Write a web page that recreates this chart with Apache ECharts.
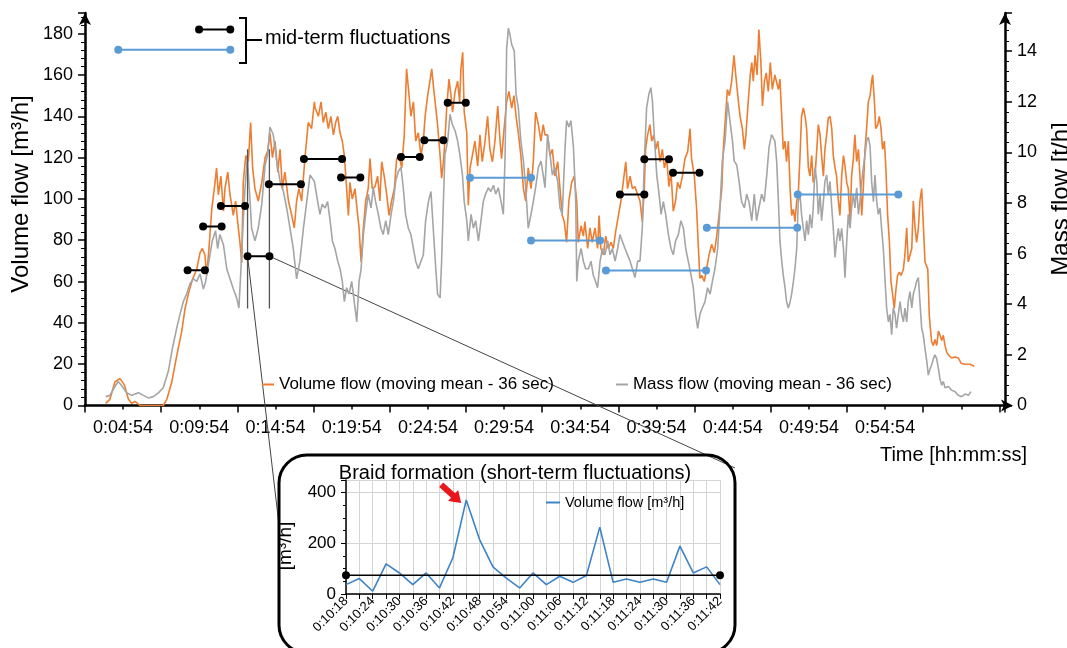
<!DOCTYPE html>
<html>
<head>
<meta charset="utf-8">
<script src="https://cdn.jsdelivr.net/npm/echarts@6/dist/echarts.min.js"></script>
<style>
  html, body { margin: 0; padding: 0; background: #fff; }
  #chart { width: 1067px; height: 648px; }
</style>
</head>
<body>
<div id="chart"></div>
<script>
// ---- Main recording: times are seconds after 0:02:24 (left end of the time axis) ----
const volT = [81,98,118,138,155,171,184,197,217,308,322,341,361,381,394,409,423,440,453,462,472,479,488,499,512,518,525,535,545,551,562,571,584,593,601,610,617,623,633,643,652,660,669,682,696,709,719,728,738,748,759,768,777,787,801,814,824,833,842,853,866,879,892,903,
  906,919,929,938,948,958,968,978,987,995,1004,1013,1021,1030,1037,1043,1052,1063,1071,1079,1087,1096,1105,1115,1122,1131,1142,1152,1161,1168,1178,1188,1197,1207,1218,1227,1236,1247,1257,1266,1276,1283,1293,1302,1312,1323,1332,1339,1349,1358,1365,1373,1381,1388,1398,1404,1411,1417,1424,1433,1441,1447,1457,1467,1475,1480,1487,1493,1503,1509,1516,1525,1535,1546,1555,1564,1575,1585,1594,1604,1614,1625,1634,1640,1650,1660,1669,1680,1689,1697,1706,1716,1726,1735,1745,1756,1765,1774,1785,1795,1804,1811,
  1821,1831,1840,1850,1861,1870,1879,1887,1896,1905,1916,1926,1936,1942,1953,1962,1968,1979,1988,1997,2008,2018,2024,2031,2041,2050,2060,2071,2080,2089,2100,2110,2119,2129,2136,2146,2155,2165,2176,2185,2194,2202,2207,2215,2224,2231,2239,2247,2255,2264,2273,2281,2290,2299,2307,2316,2325,2333,2342,2352,2362,2373,2382,2388,2399,2408,2415,2421,2428,2438,2447,2457,2467,2478,2487,2496,2507,2513,2520,2529,2537,2546,2555,2562,2570,2579,2588,2596,2602,2611,2619,2625,2631,2638,2646,2653,2661,2667,2675,2682,2690,2698,2706,2716,
  2723,2730,2736,2743,2749,2756,2762,2769,2776,2782,2789,2795,2802,2808,2815,2821,2828,2835,2841,2848,2854,2861,2867,2874,2881,2887,2894,2900,2907,2913,2920,2926,2933,2940,2946,2953,2959,2966,2972,2979,2986,2992,2999,3005,3012,3018,3025,3031,3038,3045,3051,3058,3064,3071,3077,3084,3091,3097,3101,3108,3113,3121,3127,3134,3140,3147,3153,3160,3167,3173,3180,3186,3193,3199,3206,3213,3222,3228,3235,3241,3248,3255,3261,3268,3274,3281,3287,3294,3300,3307,3318,3324,3333,3340,3346,3353,3360,3366,3373,3379,3386,3392,3399,3405,3412,3425,3438,3449,3465,3484,3501];
// Volume flow, moving mean 36 s [m³/h]
const volV = [1,3,11.5,13,10,3,1,2,0,0,3,11,24,36,47,55,61,66,74,76,73,63,76,95,108,115,102,111,94,105,113,102,92,99,89,79,69,108,121,118,137,115,105,99,108,120,123,132,120,128,113,124,105,113,99,92,86,99,105,99,120,137,134,147,
  144,140,147,137,142,134,140,131,137,140,132,128,121,105,92,108,100,105,95,86,69.5,86,99,105,119.5,105,106,111,99,118,111,102,92,99,105,119.5,121,115,131,163,150,140,147,128,132,121,128,140,150,157,163,153,144,136,121,110,118,128,144,158,150,142,152,157,147,163,171,142,132,97,115,121,128,116,131,118,128,140,124,118,128,145,128,119.5,134,147,152,144,150,140,132,121,105,99,115,105,118,142,136,128,136,131,
  131,121,124,111,118,105,92,89,79,99,108,111,99,79,87,82,89,76,86,79,86,76,92,76,73,82,76,79,76,84,92,99,108,118,105,111,105,106,102,99,89,105,124,131,136,128,131,124,128,118,124,115,119.5,106,113,94,99,108,105,111,119.5,123,134,119.5,111,95,76,61.5,63,60,66,73,78,74,82,92,105,124,137,153,150,157,169.5,160,150,140,134,124,131,147,160,166,157,169.5,160,182,166,145,157,161,152,166,153,160,
  160,153,158,140,124,128,118,128,105,92,95,89,99,102,121,140,144,140,134,115,111,121,108,111,124,136,131,121,111,124,131,139,140,134,121,115,111,99,92,111,121,116,108,105,89,111,119.5,131,118,124,111,92,105,124,134,147,150,157,160,147,134,136,140,134,124,128,115,92,79,60,53.5,47,56.5,63,64.5,63,66,73,86,69.5,69.5,76,99,86,79,86,99,105,89,69.5,66,43.5,31,29,32,29,36,34,31.5,34,29,26,24.5,25,23,23.5,23,20.5,20,20,19];

const massT = [81,98,118,131,147,164,184,210,230,249,269,289,308,328,344,361,374,387,400,413,426,440,453,466,475,488,501,514,522,531,545,558,571,584,597,606,614,623,630,639,650,656,669,682,696,709,719,728,741,755,768,781,794,807,820,833,846,860,873,886,903,
  916,925,934,945,955,965,974,984,995,1004,1013,1021,1030,1039,1050,1060,1070,1079,1087,1096,1105,1115,1126,1135,1144,1155,1165,1174,1184,1194,1205,1214,1223,1234,1244,1253,1262,1273,1283,1293,1302,1312,1323,1332,1341,1352,1362,1371,1381,1388,1398,1404,1411,1417,1428,1437,1446,1457,1467,1476,1486,1493,1503,1509,1520,1529,1538,1549,1559,1568,1577,1588,1598,1608,1617,1627,1638,1647,1654,1660,1667,1673,1680,1690,1697,1706,1716,1726,1735,1745,1756,1765,1774,1785,1795,1804,1811,
  1821,1831,1840,1850,1861,1870,1879,1890,1896,1905,1913,1923,1932,1936,1942,1953,1962,1971,1982,1992,2001,2010,2018,2028,2037,2047,2058,2067,2076,2087,2097,2106,2115,2126,2136,2146,2155,2165,2176,2185,2194,2202,2211,2220,2228,2234,2241,2251,2260,2268,2277,2286,2297,2307,2316,2325,2336,2346,2356,2365,2375,2386,2395,2404,2412,2421,2430,2441,2451,2461,2470,2480,2491,2500,2509,2520,2530,2539,2549,2556,2566,2575,2585,2596,2605,2614,2625,2635,2644,2653,2664,2674,2684,2693,2703,2716,
  2723,2730,2736,2743,2749,2756,2762,2769,2776,2782,2789,2795,2802,2808,2815,2821,2828,2835,2841,2848,2854,2861,2867,2874,2881,2887,2894,2900,2907,2913,2920,2926,2933,2940,2946,2953,2959,2966,2972,2979,2986,2992,2999,3005,3012,3018,3025,3031,3038,3045,3051,3058,3064,3071,3077,3084,3091,3097,3104,3110,3117,3123,3130,3136,3143,3150,3156,3163,3169,3176,3182,3189,3195,3202,3209,3215,3222,3228,3235,3241,3248,3255,3261,3268,3274,3281,3287,3294,3300,3307,
  3314,3320,3327,3333,3340,3346,3353,3360,3366,3373,3379,3386,3399,3412,3425,3438,3451,3465,3478,3488];
// Mass flow, moving mean 36 s [t/h]
const massV = [0.35,0.4,0.75,0.95,0.75,0.5,0.4,0.5,0.4,0.3,0.35,0.5,0.7,1.35,2.25,3.05,3.6,4.1,4.4,4.8,5.0,4.9,5.2,4.6,4.9,5.7,6.5,6.9,6.2,6.75,6.35,5.4,5.0,4.6,4.25,3.85,5.4,7.3,8.6,9.8,8.05,7.0,6.5,7.0,7.95,9.5,9.9,11.0,10.7,9.65,8.85,8.45,7.8,7.0,6.2,5.0,5.7,7.0,8.05,9.1,8.85,
  8.05,7.55,7.95,7.8,8.05,7.3,6.5,6.2,5.7,5.4,4.9,4.1,4.65,4.4,4.9,4.1,3.3,4.9,5.4,6.75,7.55,8.35,7.8,8.6,8.05,7.55,7.0,6.75,7.3,6.75,7.55,8.05,8.85,9.25,9.4,8.6,7.55,7.0,6.75,6.2,5.7,5.4,5.7,5.95,7.3,8.05,8.45,7.0,5.4,4.4,4.25,5.7,8.05,9.9,10.45,11.5,11.1,10.85,10.45,9.9,9.1,8.05,7.3,6.5,7.55,7.0,7.3,6.5,7.3,8.05,8.35,8.6,8.45,8.7,8.35,8.6,8.05,7.55,9.9,14.1,14.9,14.65,14.25,14.0,12.3,11.75,10.45,9.65,8.6,7.0,7.55,8.05,8.6,9.4,9.65,9.1,8.6,
  10.7,9.9,9.1,9.4,8.85,7.8,7.55,10.2,11.25,11.0,11.25,10.2,8.05,4.9,5.7,6.2,5.7,5.4,5.4,5.7,5.15,4.9,4.65,5.7,6.2,5.95,6.5,5.95,6.2,5.7,6.2,6.75,6.5,6.2,5.95,5.7,5.4,5.05,5.7,5.7,7.0,9.65,11.75,12.3,12.55,12.0,10.7,9.1,8.35,7.55,8.05,7.55,6.75,6.2,5.95,6.5,6.75,7.3,7.0,6.2,5.7,5.15,4.65,3.6,3.05,3.6,3.85,4.1,4.65,4.4,4.9,5.4,6.2,7.8,9.65,10.45,12.0,11.25,10.45,9.65,9.5,8.85,8.05,7.8,8.35,8.05,7.3,8.35,7.3,7.8,8.35,8.05,9.1,10.2,10.7,10.45,
  9.65,8.05,6.5,5.7,5.15,4.65,4.1,3.85,4.1,4.4,4.9,5.4,6.2,8.05,8.35,7.55,7.0,6.5,7.3,6.75,7.55,7.0,7.8,9.4,8.85,7.55,8.35,7.3,8.05,8.85,9.1,8.35,8.85,7.8,7.0,5.85,6.5,7.0,6.5,7.0,6.2,5.05,6.5,7.55,7.0,7.8,8.35,7.8,8.6,7.55,8.05,8.85,9.4,9.9,10.45,10.6,10.2,8.85,8.05,9.1,8.05,7.55,7.8,7.0,6.2,4.9,3.85,3.3,3.6,2.8,3.85,3.6,3.05,3.6,4.1,3.6,3.3,3.85,3.3,4.1,4.5,3.85,4.4,4.65,4.9,5.05,4.1,3.05,2.8,2.25,
  1.75,1.2,1.45,1.6,1.85,2.0,1.85,1.45,1.05,0.8,0.95,0.7,0.75,0.6,0.55,0.4,0.35,0.45,0.4,0.55];

// Time-axis labels (one every 5 minutes)
const timeLabels = ['0:04:54','0:09:54','0:14:54','0:19:54','0:24:54','0:29:54','0:34:54','0:39:54','0:44:54','0:49:54','0:54:54'];

// Mid-term fluctuation levels (start, end in seconds after 0:02:24; level in m³/h)
const blackStart = [449, 404, 465, 535, 640, 724, 862, 1008, 1244, 1336, 1428, 2106, 2202, 2315];
const blackEnd   = [572, 472, 538, 630, 726, 850, 1012, 1084, 1318, 1411, 1499, 2202, 2299, 2419];
const blackLevel = [182, 65.5, 86.6, 96.6, 72.3, 107.1, 119.3, 110.4, 120.3, 128.4, 146.6, 102.1, 119.2, 112.7];
const blueStart  = [131, 1516, 1756, 2051, 2448, 2806];
const blueEnd    = [572, 1756, 2028, 2445, 2804, 3202];
const blueLevel  = [172.2, 110.2, 79.9, 65.4, 86.0, 102.1];
const BRAID = 4;               // the black level that is shown in detail below
const braidSpanLow = 47, braidSpanHigh = 124;

// ---- Detail: braid formation, 3-second values ----
const detailTimes = ['0:10:18','0:10:21','0:10:24','0:10:27','0:10:30','0:10:33','0:10:36','0:10:39','0:10:42','0:10:45','0:10:48','0:10:51','0:10:54','0:10:57','0:11:00','0:11:03','0:11:06','0:11:09','0:11:12','0:11:15','0:11:18','0:11:21','0:11:24','0:11:27','0:11:30','0:11:33','0:11:36','0:11:39','0:11:42'];
const detailVolume = [37,61,11,119,83,37,83,24,143,371,215,107,63,24,83,37,70,46,73,264,46,59,46,59,46,189,83,107,37];
const detailMean = 74;

const FONT = '"Liberation Sans", Arial, Helvetica, sans-serif';
const ORANGE = '#ED7D31', GREY = '#A5A5A5', BLUE = '#5B9BD5', DETAIL_BLUE = '#3F83C6';

const chart = echarts.init(document.getElementById('chart'), null, { renderer: 'canvas' });

const pairs = (ts, vs) => ts.map((t, i) => [t, vs[i]]);

function dumbbell(a, b, v, color, size) {
  return {
    type: 'line', xAxisIndex: 0, yAxisIndex: 0, data: [[a, v], [b, v]],
    symbol: 'circle', symbolSize: size, showSymbol: true,
    itemStyle: { color: color }, lineStyle: { color: color, width: 2 },
    z: 6, silent: true
  };
}

const series = [
  { name: 'Volume flow (moving mean - 36 sec)', type: 'line', xAxisIndex: 0, yAxisIndex: 0,
    data: pairs(volT, volV), symbol: 'none', itemStyle: { color: ORANGE },
    lineStyle: { color: ORANGE, width: 1.6 }, z: 2 },
  { name: 'Mass flow (moving mean - 36 sec)', type: 'line', xAxisIndex: 0, yAxisIndex: 1,
    data: pairs(massT, massV), symbol: 'none', itemStyle: { color: GREY },
    lineStyle: { color: GREY, width: 1.6 }, z: 3 }
];
// span of the detailed window
[blackStart[BRAID], blackEnd[BRAID]].forEach(t => series.push({
  type: 'line', xAxisIndex: 0, yAxisIndex: 0, data: [[t, braidSpanLow], [t, braidSpanHigh]],
  symbol: 'none', lineStyle: { color: '#555', width: 1.3 }, z: 4, silent: true
}));
blackStart.forEach((a, i) => series.push(dumbbell(a, blackEnd[i], blackLevel[i], '#000', 8)));
blueStart.forEach((a, i) => series.push(dumbbell(a, blueEnd[i], blueLevel[i], BLUE, 8)));
series.push({
  name: 'Volume flow [m³/h]', type: 'line', xAxisIndex: 2, yAxisIndex: 2,
  data: detailVolume, symbol: 'none', itemStyle: { color: DETAIL_BLUE },
  lineStyle: { color: DETAIL_BLUE, width: 1.6 }, z: 3
});
series.push({
  type: 'line', xAxisIndex: 2, yAxisIndex: 2,
  data: [[0, detailMean], [detailTimes.length - 1, detailMean]],
  symbol: 'circle', symbolSize: 8, itemStyle: { color: '#000' },
  lineStyle: { color: '#000', width: 1.6 }, z: 4, silent: true
});

const option = {
  animation: false,
  backgroundColor: '#fff',
  textStyle: { fontFamily: FONT },
  grid: [
    { left: 85, right: 62, top: 13, bottom: 242.5 },
    { left: 346, right: 347, top: 480, bottom: 54 }
  ],
  legend: [
    { data: ['Volume flow (moving mean - 36 sec)', 'Mass flow (moving mean - 36 sec)'],
      left: 262, top: 376, padding: 0, itemGap: 62, itemWidth: 12, itemHeight: 2, icon: 'rect',
      textStyle: { fontSize: 17, color: '#000', fontFamily: FONT } },
    { data: ['Volume flow [m³/h]'], left: 546, top: 495, padding: 0,
      itemWidth: 14, itemHeight: 2, icon: 'rect',
      textStyle: { fontSize: 14.5, color: '#000', fontFamily: FONT } }
  ],
  xAxis: [
    { gridIndex: 0, type: 'value', position: 'bottom', min: 0, max: 3622, interval: 150,
      axisLine: { show: false, onZero: false },
      axisTick: { show: true, length: 4, lineStyle: { color: '#000', width: 1.5 } },
      axisLabel: { fontSize: 18, color: '#000', margin: 14, fontFamily: FONT,
        showMinLabel: false, showMaxLabel: false,
        formatter: v => ((v - 150) % 300 === 0 && v >= 150) ? (timeLabels[(v - 150) / 300] || '') : '' },
      splitLine: { show: false } },
    { gridIndex: 0, type: 'value', position: 'bottom', offset: 0, min: 0, max: 3622, interval: 300,
      axisLine: { show: true, onZero: false, lineStyle: { color: '#000', width: 2.5 },
        symbol: ['none', 'arrow'], symbolSize: [9, 12], symbolOffset: [0, 8] },
      axisTick: { show: true, length: 7, lineStyle: { color: '#000', width: 1.5 } },
      axisLabel: { show: false }, splitLine: { show: false } },
    { gridIndex: 1, type: 'category', position: 'bottom', data: detailTimes, boundaryGap: false,
      axisLine: { onZero: false, lineStyle: { color: '#000', width: 1.5 } },
      axisTick: { show: true, interval: 0, length: 5, lineStyle: { color: '#000' } },
      axisLabel: { interval: 1, rotate: 45, fontSize: 13, color: '#000', margin: 5, fontFamily: FONT },
      splitLine: { show: true, interval: 0, lineStyle: { color: '#d4d4d4', width: 1 } } }
  ],
  yAxis: [
    { gridIndex: 0, type: 'value', min: 0, max: 190, interval: 20, position: 'left',
      axisLine: { show: true, onZero: false, lineStyle: { color: '#000', width: 2.5 },
        symbol: ['none', 'arrow'], symbolSize: [9, 12] },
      axisTick: { show: true, length: 7, lineStyle: { color: '#000', width: 1.5 } },
      minorTick: { show: true, splitNumber: 5, length: 4, lineStyle: { color: '#000', width: 1 } },
      axisLabel: { fontSize: 18, color: '#000', margin: 12, fontFamily: FONT,
        formatter: v => (v % 20 === 0 ? String(v) : '') },
      splitLine: { show: false } },
    { gridIndex: 0, type: 'value', min: 0, max: 15.5, interval: 2, position: 'right',
      axisLine: { show: true, onZero: false, lineStyle: { color: '#000', width: 2.5 },
        symbol: ['none', 'arrow'], symbolSize: [9, 12] },
      axisTick: { show: true, length: 7, lineStyle: { color: '#000', width: 1.5 } },
      minorTick: { show: true, splitNumber: 5, length: 4, lineStyle: { color: '#000', width: 1 } },
      axisLabel: { fontSize: 18, color: '#000', margin: 12, fontFamily: FONT,
        formatter: v => (v % 2 === 0 ? String(v) : '') },
      splitLine: { show: false } },
    { gridIndex: 1, type: 'value', position: 'left', min: 0, max: 450, interval: 200,
      axisLine: { show: true, onZero: false, lineStyle: { color: '#000', width: 1.5 } },
      axisTick: { show: true, length: 5, lineStyle: { color: '#000' } },
      minorTick: { show: true, splitNumber: 4, length: 3, lineStyle: { color: '#000' } },
      axisLabel: { fontSize: 17, color: '#000', margin: 10, fontFamily: FONT,
        formatter: v => (v % 200 === 0 ? String(v) : '') },
      splitLine: { show: true, lineStyle: { color: '#d4d4d4', width: 1 } } }
  ],
  series: series
};
chart.setOption(option);

// ---- annotations: captions, bracket, detail box, connectors and arrow ----
function txt(id, x, y, text, size, opts) {
  return Object.assign({
    type: 'text', id: id, x: x, y: y, z: 10,
    style: Object.assign({ text: text, fontSize: size, fontFamily: FONT, fill: '#000',
      align: 'left', textAlign: 'left', verticalAlign: 'middle', textVerticalAlign: 'middle' }, (opts && opts.style) || {})
  }, (opts && opts.el) || {});
}
const centered = { align: 'center', textAlign: 'center' };

const pA = chart.convertToPixel({ xAxisIndex: 0, yAxisIndex: 0 }, [blackStart[BRAID], blackLevel[BRAID]]);
const pB = chart.convertToPixel({ xAxisIndex: 0, yAxisIndex: 0 }, [blackEnd[BRAID], blackLevel[BRAID]]);
const peakIdx = detailVolume.indexOf(Math.max.apply(null, detailVolume));
const pk = chart.convertToPixel({ xAxisIndex: 2, yAxisIndex: 2 }, [peakIdx, detailVolume[peakIdx]]);

// red arrow pointing at the largest braid peak
const tip = [pk[0] - 5, pk[1] + 3];
const tail = [tip[0] - 20, tip[1] - 18.3];
const dx = tip[0] - tail[0], dy = tip[1] - tail[1], L = Math.hypot(dx, dy);
const ux = dx / L, uy = dy / L, nx = -uy, ny = ux;
const hb = [tip[0] - ux * 11, tip[1] - uy * 11];
const arrowPts = [
  [tail[0] + nx * 3, tail[1] + ny * 3], [hb[0] + nx * 3, hb[1] + ny * 3], [hb[0] + nx * 7.5, hb[1] + ny * 7.5],
  tip, [hb[0] - nx * 7.5, hb[1] - ny * 7.5], [hb[0] - nx * 3, hb[1] - ny * 3], [tail[0] - nx * 3, tail[1] - ny * 3]
];

chart.setOption({
  graphic: [
    { type: 'polyline', id: 'bracket', z: 10, shape: { points: [[239, 18], [246, 18], [246, 63], [239, 63]] },
      style: { stroke: '#000', lineWidth: 2, fill: null } },
    { type: 'line', id: 'bracketTick', z: 10, shape: { x1: 246, y1: 40, x2: 262, y2: 40 }, style: { stroke: '#000', lineWidth: 2 } },
    txt('midTerm', 265, 38, 'mid-term fluctuations', 20),
    txt('timeTitle', 1027, 455, 'Time [hh:mm:ss]', 20, { style: { align: 'right', textAlign: 'right' } }),
    txt('volTitle', 21, 194, 'Volume flow [m³/h]', 24, { style: centered, el: { rotation: Math.PI / 2 } }),
    txt('massTitle', 1061, 199, 'Mass flow [t/h]', 24, { style: centered, el: { rotation: Math.PI / 2 } }),
    { type: 'line', id: 'connL', z: 1, shape: { x1: pA[0], y1: pA[1], x2: 279, y2: 525 }, style: { stroke: '#444', lineWidth: 1 } },
    { type: 'line', id: 'connR', z: 1, shape: { x1: pB[0], y1: pB[1], x2: 735, y2: 468 }, style: { stroke: '#444', lineWidth: 1 } },
    { type: 'rect', id: 'detailBox', z: 9, shape: { x: 279, y: 455, width: 456, height: 198, r: 28 },
      style: { fill: 'rgba(0,0,0,0)', stroke: '#000', lineWidth: 3 } },
    txt('detailTitle', 515, 473, 'Braid formation (short-term fluctuations)', 20, { style: centered }),
    txt('detailUnit', 286, 546, '[m³/h]', 19, { style: centered, el: { rotation: Math.PI / 2 } }),
    { type: 'polygon', id: 'peakArrow', z: 10, shape: { points: arrowPts }, style: { fill: '#E8171B', stroke: null } }
  ]
});
</script>
</body>
</html>
